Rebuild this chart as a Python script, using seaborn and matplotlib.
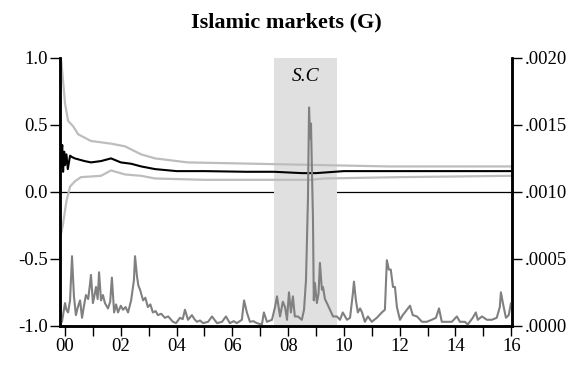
import numpy as np
import pandas as pd
import matplotlib
matplotlib.use("Agg")
import matplotlib.pyplot as plt
import seaborn as sns
from matplotlib.ticker import FuncFormatter

# Data
# volatility (right axis), values in units of 1e-4
vol_t = [1999.82, 1999.89, 2000.00, 2000.05, 2000.11, 2000.18, 2000.25, 2000.32, 2000.39, 2000.46,
         2000.54, 2000.61, 2000.68, 2000.75, 2000.83, 2000.90, 2000.93, 2001.00, 2001.05, 2001.11,
         2001.17, 2001.22, 2001.29, 2001.36, 2001.43, 2001.54, 2001.62, 2001.68, 2001.76, 2001.83,
         2001.90, 2002.00, 2002.08, 2002.17, 2002.26, 2002.37, 2002.47, 2002.51, 2002.58, 2002.63,
         2002.69, 2002.80, 2002.88, 2002.97, 2003.06, 2003.15, 2003.25, 2003.33, 2003.45, 2003.58,
         2003.70, 2003.87, 2003.98, 2004.12, 2004.22, 2004.30, 2004.41, 2004.55, 2004.64, 2004.73,
         2004.84, 2004.95, 2005.13, 2005.27, 2005.45, 2005.63, 2005.77, 2005.91, 2006.05, 2006.16,
         2006.34, 2006.42, 2006.52, 2006.63, 2006.75, 2006.88, 2007.06, 2007.13, 2007.24, 2007.42,
         2007.53, 2007.60, 2007.71, 2007.81, 2007.89, 2007.96, 2008.03, 2008.10, 2008.17, 2008.24,
         2008.35, 2008.49, 2008.57, 2008.64, 2008.71, 2008.75, 2008.79, 2008.82, 2008.85, 2008.89,
         2008.92, 2008.96, 2009.03, 2009.09, 2009.14, 2009.21, 2009.25, 2009.32, 2009.39, 2009.50,
         2009.61, 2009.75, 2009.86, 2009.96, 2010.11, 2010.22, 2010.32, 2010.36, 2010.43, 2010.50,
         2010.58, 2010.65, 2010.75, 2010.86, 2011.00, 2011.18, 2011.27, 2011.36, 2011.47, 2011.54,
         2011.61, 2011.68, 2011.76, 2011.83, 2011.90, 2012.01, 2012.11, 2012.26, 2012.37, 2012.47,
         2012.62, 2012.80, 2012.97, 2013.15, 2013.30, 2013.41, 2013.51, 2013.69, 2013.87, 2014.05,
         2014.16, 2014.34, 2014.44, 2014.62, 2014.73, 2014.80, 2014.95, 2015.13, 2015.30, 2015.48,
         2015.59, 2015.63, 2015.70, 2015.81, 2015.91, 2015.99]
vol_v = [0.5, 0.3, 1.7, 1.2, 1.0, 1.9, 5.2, 2.2, 0.8, 1.4,
         1.9, 0.6, 1.5, 2.3, 2.0, 3.2, 3.8, 1.7, 2.2, 2.9,
         2.0, 4.0, 1.9, 2.3, 1.7, 1.3, 1.8, 3.6, 1.0, 1.6,
         1.0, 1.5, 1.2, 1.4, 1.0, 1.9, 3.4, 5.2, 3.7, 3.0,
         2.7, 1.9, 2.1, 1.4, 1.6, 1.0, 1.1, 0.8, 0.9, 0.6,
         0.7, 0.3, 0.2, 0.6, 0.5, 1.2, 0.45, 0.8, 0.5, 0.3,
         0.4, 0.2, 0.3, 0.7, 0.2, 0.3, 0.7, 0.2, 0.35, 0.2,
         0.45, 1.9, 1.0, 0.3, 0.35, 0.2, 0.1, 1.0, 0.3, 0.45,
         1.4, 2.2, 0.7, 1.8, 1.4, 0.45, 2.5, 1.0, 2.2, 0.7,
         0.7, 0.45, 1.2, 3.4, 9.4, 16.3, 14.0, 15.1, 11.9, 8.1,
         1.9, 3.2, 1.7, 2.4, 4.7, 2.7, 2.9, 2.0, 1.7, 1.2,
         0.7, 0.7, 0.45, 1.0, 0.45, 0.6, 2.4, 3.3, 1.9, 1.0,
         1.3, 1.0, 0.3, 0.7, 0.3, 0.6, 0.8, 1.0, 1.2, 4.9,
         4.2, 4.2, 2.9, 2.9, 1.4, 0.45, 0.8, 1.2, 1.5, 0.8,
         0.7, 0.3, 0.3, 0.45, 0.6, 1.3, 0.3, 0.3, 0.3, 0.7,
         0.3, 0.3, 0.1, 0.6, 1.0, 0.45, 0.7, 0.45, 0.45, 0.6,
         1.4, 2.5, 1.7, 0.6, 0.8, 1.7]

# recursive estimate (left axis)
est_t = [1999.85, 1999.88, 1999.90, 1999.93, 1999.97, 2000.00, 2000.05, 2000.10, 2000.18, 2000.25,
         2000.35, 2000.70, 2000.93, 2001.29, 2001.65, 2002.00, 2002.37, 2002.73, 2003.23, 2004.00,
         2005.00, 2006.50, 2007.50, 2008.50, 2009.00, 2010.00, 2012.00, 2014.00, 2016.00]
est_v = [0.18, 0.30, 0.35, 0.15, 0.30, 0.20, 0.28, 0.17, 0.27, 0.26,
         0.25, 0.23, 0.22, 0.23, 0.25, 0.22, 0.21, 0.19, 0.17, 0.155,
         0.155, 0.15, 0.15, 0.14, 0.14, 0.155, 0.155, 0.155, 0.155]

up_t = [1999.85, 1999.90, 2000.00, 2000.11, 2000.29, 2000.47, 2000.93, 2001.65, 2002.15, 2002.73,
        2003.23, 2004.40, 2006.80, 2009.20, 2011.60, 2016.00]
up_v = [1.00, 0.90, 0.66, 0.53, 0.49, 0.43, 0.38, 0.36, 0.34, 0.28,
        0.25, 0.22, 0.21, 0.20, 0.19, 0.19]

lo_t = [1999.85, 1999.92, 2000.05, 2000.18, 2000.36, 2000.57, 2001.29, 2001.65, 2002.15, 2002.73,
        2003.23, 2005.00, 2008.80, 2009.30, 2012.00, 2016.00]
lo_v = [-0.32, -0.25, -0.07, 0.04, 0.08, 0.11, 0.12, 0.16, 0.13, 0.12,
        0.10, 0.09, 0.09, 0.10, 0.11, 0.12]

crisis = (2007.5, 2009.75)
year_ticks = list(range(2000, 2017))
year_labels = ["%02d" % (y - 2000) if y % 2 == 0 else "" for y in year_ticks]

sns.set_style("ticks")
plt.rcParams["font.family"] = ["Liberation Serif", "DejaVu Serif"]
plt.rcParams["axes.unicode_minus"] = False
plt.rcParams["text.color"] = "black"

fig = plt.figure(figsize=(5.77, 3.69), dpi=100)
ax = fig.add_axes([0.104, 0.117, 0.783, 0.726])

ax.axhline(0, color="black", lw=0.9, zorder=1)
ax.axvspan(crisis[0], crisis[1], color="#e0e0e0", lw=0, zorder=1.5)
ax.text(sum(crisis) / 2, 0.86, "S.C", ha="center", va="center", fontsize=14,
        style="italic", color="black")

sns.lineplot(x=up_t, y=up_v, ax=ax, color="#bdbdbd", lw=1.6, zorder=2)
sns.lineplot(x=lo_t, y=lo_v, ax=ax, color="#bdbdbd", lw=1.6, zorder=2)
sns.lineplot(x=est_t, y=est_v, ax=ax, color="black", lw=1.5, zorder=3)

ax2 = ax.twinx()
sns.lineplot(x=vol_t, y=np.array(vol_v) * 1e-4, ax=ax2, color="#808080", lw=1.5)

ax.set_xlim(1999.82, 2016.02)
ax.set_ylim(-1.0, 1.0)
ax2.set_ylim(0, 0.002)

ax.set_yticks([-1.0, -0.5, 0.0, 0.5, 1.0])
ax.yaxis.set_major_formatter(FuncFormatter(lambda v, p: "%.1f" % v))
ax2.set_yticks([0, 0.0005, 0.001, 0.0015, 0.002])
ax2.yaxis.set_major_formatter(FuncFormatter(lambda v, p: ("%.4f" % v)[1:]))
ax.set_xticks(year_ticks)
ax.set_xticklabels(year_labels)

for a in (ax, ax2):
    a.set_xlabel("")
    a.set_ylabel("")
    a.spines["top"].set_visible(False)
    for s in ("left", "right", "bottom"):
        a.spines[s].set_linewidth(1.8)
        a.spines[s].set_color("black")
    a.tick_params(direction="out", length=7, width=1.0, labelsize=13.5, colors="black", pad=2)

ax.set_title("Islamic markets (G)", fontsize=16, fontweight="bold", pad=22, color="black")

fig.savefig("out.png", dpi=100)
